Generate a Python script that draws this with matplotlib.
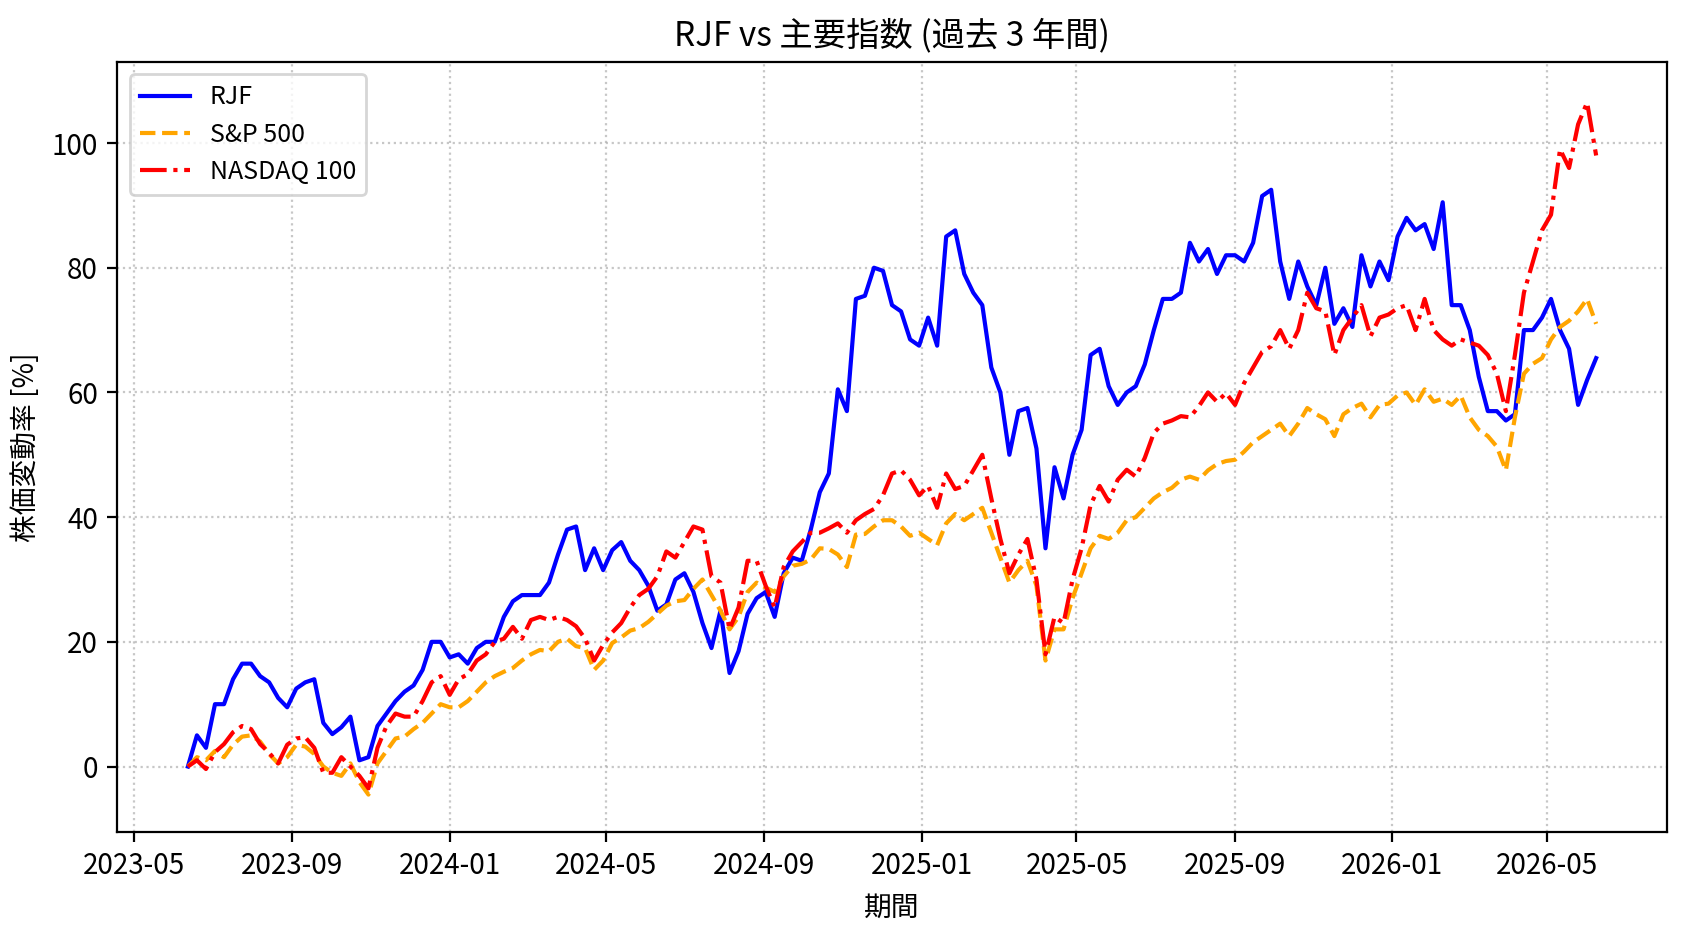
import pandas as pd
import matplotlib
matplotlib.use('Agg')
import matplotlib.pyplot as plt
import matplotlib.dates as mdates

plt.rcParams['font.family'] = ['Noto Sans CJK JP', 'DejaVu Sans']

## weekly closes, % change from the first week
rjf = [0, 5, 3, 10, 10, 14, 16.5, 16.5, 14.5, 13.5,
       11, 9.5, 12.5, 13.5, 14, 7, 5.2, 6.3, 8, 1,
       1.5, 6.5, 8.5, 10.5, 12, 13, 15.5, 20, 20, 17.5,
       18, 16.5, 19, 20, 20, 24, 26.5, 27.5, 27.5, 27.5,
       29.5, 34, 38, 38.5, 31.5, 35, 31.5, 34.7, 36, 33,
       31.5, 29, 25, 26, 30, 31, 28, 23, 19, 25,
       15, 18.5, 24.5, 27, 28, 24, 31, 33.5, 33, 38,
       44, 47, 60.5, 57, 75, 75.5, 80, 79.5, 74, 73,
       68.5, 67.5, 72, 67.5, 85, 86, 79, 76, 74, 64,
       60, 50, 57, 57.5, 51, 35, 48, 43, 50, 54,
       66, 67, 61, 58, 60, 61, 64.5, 70, 75, 75,
       76, 84, 81, 83, 79, 82, 82, 81, 84, 91.5,
       92.5, 81, 75, 81, 77, 74, 80, 71, 73.5, 70.5,
       82, 77, 81, 78, 85, 88, 86, 87, 83, 90.5,
       74, 74, 70, 62.5, 57, 57, 55.5, 56.5, 70, 70,
       72, 75, 70, 67, 58, 62, 65.5]

sp500 = [0, 1.5, 1, 2.5, 1.5, 3.5, 4.8, 5, 4, 2,
         0.5, 1.5, 3.5, 3.2, 2, 0, -1, -1.5, 0.5, -2.5,
         -4.5, 0.5, 2.5, 4.5, 4.8, 6, 7, 8.5, 10, 9.5,
         9.5, 10.5, 12, 13.5, 14.5, 15.2, 15.8, 17, 18, 18.7,
         18.5, 20, 20.5, 19.3, 19, 15.5, 17, 19.8, 20.7, 21.8,
         22.2, 23.2, 24.5, 25.8, 26.5, 26.7, 28.5, 30, 27.5, 25,
         22, 24, 28, 29.5, 28.7, 28, 30.5, 32.2, 32.5, 33.2,
         35, 34.9, 34, 32, 37.2, 37.3, 38.5, 39.5, 39.5, 38.5,
         37, 37.5, 36.5, 35.5, 39, 40.5, 39.5, 40.5, 41.5, 37.5,
         33.5, 29.5, 31.5, 33, 29, 17, 22, 22, 27, 31,
         35, 37, 36.5, 37.5, 39.5, 40, 41.5, 43, 44, 44.7,
         46, 46.5, 46, 47.5, 48.5, 49, 49.2, 50.5, 52, 53,
         54, 55, 53, 55, 57.5, 56.5, 55.7, 53, 56.5, 57.5,
         58.2, 56, 58, 58.2, 59.5, 60, 58, 60.5, 58.5, 59,
         58, 59.5, 56, 54, 53, 51.3, 47.5, 56, 63, 64.6,
         65.5, 68.5, 70.5, 71.5, 73, 75, 71]

nasdaq = [0, 1, -0.4, 2.3, 3.6, 5.5, 6.5, 6, 3.6, 2.2,
          0.5, 3.5, 4.5, 4.7, 3, -1, -1, 1.5, 0, -1.5,
          -3.5, 3, 6.5, 8.5, 8, 8, 10.5, 13.5, 14.5, 11.5,
          14, 14.8, 17, 18, 20, 20.5, 22.4, 20.5, 23.5, 24,
          23.5, 24, 23.5, 22.5, 20.5, 17, 19.5, 21.5, 23, 25.5,
          27.5, 28.5, 30.5, 34.5, 33.5, 36, 38.5, 38, 30.5, 29.5,
          22, 25.5, 33, 33, 29, 25.5, 32, 34.5, 36, 37.5,
          37.5, 38.2, 39, 37.5, 39.5, 40.5, 41.3, 43.5, 47, 47.5,
          46, 43.5, 45, 41.5, 47, 44.5, 45, 47.5, 50, 43,
          36.5, 31, 34, 36.5, 30, 18, 24, 23, 30, 35,
          42, 45, 42.5, 46, 47.6, 46.5, 49.5, 53.5, 55, 55.5,
          56.2, 56, 57.8, 60, 58.5, 59.9, 58, 61.5, 64, 66.5,
          67.4, 70, 67, 70, 76, 73.5, 73, 66, 70, 72,
          74, 69, 72, 72.5, 73.5, 74, 70, 75, 70, 68.5,
          67.5, 68.5, 68, 67.5, 66, 63, 57, 66, 76, 81,
          86, 88.5, 99, 96, 103, 106.5, 98]

dates = pd.date_range('2023-06-12', periods=len(rjf), freq='7D')

fig = plt.figure(figsize=(8.44, 4.66), dpi=200)
ax = fig.add_axes([0.0696, 0.1073, 0.9177, 0.8262])

ax.plot(dates, rjf, color='blue', linestyle='-', linewidth=1.5, label='RJF')
ax.plot(dates, sp500, color='orange', linestyle='--', linewidth=1.5, label='S&P 500')
ax.plot(dates, nasdaq, color='red', linestyle='-.', linewidth=1.5, label='NASDAQ 100')

ax.set_ylim(-10.5, 113)
ax.xaxis.set_major_locator(mdates.MonthLocator(bymonth=[1, 5, 9]))
ax.xaxis.set_major_formatter(mdates.DateFormatter('%Y-%m'))

ax.set_title('RJF vs 主要指数 (過去 3 年間)', fontsize=12)
ax.set_xlabel('期間')
ax.set_ylabel('株価変動率 [%]')
ax.grid(True, linestyle=':', color='#b0b0b0', alpha=0.7)
ax.legend(loc='upper left', fontsize=9, labelspacing=0.45)

fig.savefig('out.png', dpi=200)
